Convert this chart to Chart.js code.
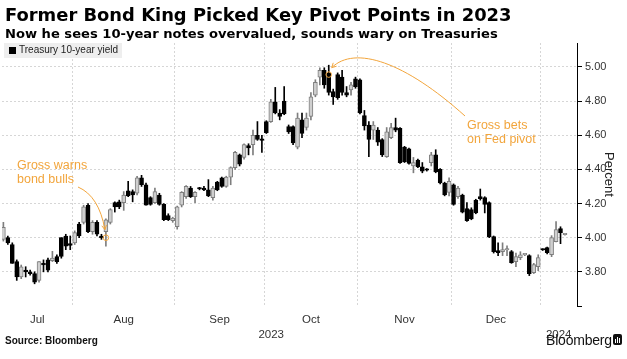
<!DOCTYPE html>
<html><head><meta charset="utf-8">
<script src="https://cdn.jsdelivr.net/npm/chart.js@4.4.1/dist/chart.umd.min.js"></script>
<style>
html,body{margin:0;padding:0;background:#fff;}
#wrap{position:relative;width:627px;height:359px;overflow:hidden;font-family:"Liberation Sans",Arial,sans-serif;color:#000;}
#c{position:absolute;left:0;top:0;}
.t{position:absolute;white-space:nowrap;line-height:1;}
#title{left:5px;top:6px;font-family:"DejaVu Sans",sans-serif;font-weight:bold;font-size:17.9px;}
#sub{left:5px;top:27px;font-family:"DejaVu Sans",sans-serif;font-weight:bold;font-size:13.1px;}
#leg{position:absolute;left:4px;top:43px;width:118px;height:15px;background:#eeeeee;}
#leg .sq{position:absolute;left:5px;top:4px;width:7px;height:7px;background:#000;}
#leg .lt{position:absolute;left:15px;top:2px;font-size:10px;color:#222;white-space:nowrap;line-height:1;}
#src{left:5px;top:336px;font-weight:bold;font-size:10px;color:#111;}
#bb{left:546px;top:333px;font-size:14px;color:#111;letter-spacing:-0.2px;}
#ico{position:absolute;left:613px;top:334px;width:9px;height:11px;background:#111;border-radius:2px;}
#ico i{position:absolute;bottom:2px;width:1px;background:#fff;}
</style></head>
<body><div id="wrap">
<canvas id="c" width="627" height="359"></canvas>
<div class="t" id="title">Former Bond King Picked Key Pivot Points in 2023</div>
<div class="t" id="sub">Now he sees 10-year notes overvalued, sounds wary on Treasuries</div>
<div id="leg"><div class="sq"></div><div class="lt">Treasury 10-year yield</div></div>
<div class="t" id="src">Source: Bloomberg</div>
<div class="t" id="bb">Bloomberg</div>
<div id="ico"><i style="left:2px;height:4px"></i><i style="left:4px;height:6px"></i><i style="left:6px;height:5px"></i></div>
</div>
<script>
// Trading days (Treasury 10-year yield, daily OHLC, percent)
const dates = [
"2023-07-10","2023-07-11","2023-07-12","2023-07-13","2023-07-14","2023-07-17","2023-07-18","2023-07-19","2023-07-20","2023-07-21",
"2023-07-24","2023-07-25","2023-07-26","2023-07-27","2023-07-28","2023-07-31",
"2023-08-01","2023-08-02","2023-08-03","2023-08-04","2023-08-07","2023-08-08","2023-08-09","2023-08-10","2023-08-11",
"2023-08-14","2023-08-15","2023-08-16","2023-08-17","2023-08-18","2023-08-21","2023-08-22","2023-08-23","2023-08-24","2023-08-25",
"2023-08-28","2023-08-29","2023-08-30","2023-08-31",
"2023-09-01","2023-09-05","2023-09-06","2023-09-07","2023-09-08","2023-09-11","2023-09-12","2023-09-13","2023-09-14","2023-09-15",
"2023-09-18","2023-09-19","2023-09-20","2023-09-21","2023-09-22","2023-09-25","2023-09-26","2023-09-27","2023-09-28","2023-09-29",
"2023-10-02","2023-10-03","2023-10-04","2023-10-05","2023-10-06","2023-10-10","2023-10-11","2023-10-12","2023-10-13",
"2023-10-16","2023-10-17","2023-10-18","2023-10-19","2023-10-20","2023-10-23","2023-10-24","2023-10-25","2023-10-26","2023-10-27",
"2023-10-30","2023-10-31",
"2023-11-01","2023-11-02","2023-11-03","2023-11-06","2023-11-07","2023-11-08","2023-11-09","2023-11-10","2023-11-13","2023-11-14",
"2023-11-15","2023-11-16","2023-11-17","2023-11-20","2023-11-21","2023-11-22","2023-11-24","2023-11-27","2023-11-28","2023-11-29","2023-11-30",
"2023-12-01","2023-12-04","2023-12-05","2023-12-06","2023-12-07","2023-12-08","2023-12-11","2023-12-12","2023-12-13","2023-12-14",
"2023-12-15","2023-12-18","2023-12-19","2023-12-20","2023-12-21","2023-12-22","2023-12-26","2023-12-27","2023-12-28","2023-12-29",
"2024-01-02","2024-01-03","2024-01-04","2024-01-05","2024-01-08","2024-01-09"
];
const open = [3.99,4.00,3.96,3.86,3.77,3.81,3.80,3.79,3.75,3.85,3.87,3.865,3.89,4.00,4.01,3.965,3.97,4.08,4.09,4.19,4.035,4.09,4.01,4.035,4.09,
4.205,4.21,4.205,4.275,4.27,4.26,4.35,4.31,4.235,4.205,4.25,4.195,4.13,4.10,4.065,4.19,4.24,4.29,4.24,4.29,4.29,4.28,4.235,4.325,4.35,
4.30,4.355,4.41,4.485,4.47,4.54,4.545,4.60,4.575,4.68,4.68,4.795,4.73,4.80,4.65,4.65,4.53,4.69,4.645,4.71,4.835,4.94,4.98,4.965,4.855,
4.955,4.94,4.85,4.865,4.93,4.925,4.715,4.66,4.63,4.63,4.575,4.475,4.585,4.645,4.64,4.53,4.52,4.42,4.455,4.415,4.40,4.44,4.485,4.40,4.32,
4.265,4.31,4.24,4.25,4.17,4.165,4.22,4.24,4.235,4.205,4.006,3.925,3.918,3.928,3.918,3.86,3.883,3.899,3.895,3.795,3.83,3.932,3.942,3.90,3.977,
4.053,4.017];
const high = [4.09,4.01,3.97,3.87,3.84,3.83,3.81,3.80,3.86,3.87,3.88,3.92,3.90,4.00,4.02,4.01,4.04,4.09,4.19,4.20,4.10,4.10,4.02,4.11,4.17,
4.21,4.22,4.27,4.33,4.28,4.36,4.365,4.32,4.24,4.29,4.26,4.20,4.14,4.12,4.185,4.27,4.305,4.30,4.27,4.295,4.30,4.34,4.30,4.33,4.355,
4.36,4.415,4.505,4.49,4.55,4.55,4.63,4.68,4.60,4.685,4.81,4.88,4.75,4.885,4.66,4.655,4.73,4.73,4.73,4.85,4.925,4.995,4.995,5.01,4.87,
4.965,4.98,4.885,4.91,4.94,4.93,4.745,4.68,4.68,4.645,4.58,4.645,4.67,4.70,4.645,4.535,4.525,4.47,4.46,4.44,4.405,4.50,4.515,4.405,4.325,
4.35,4.315,4.30,4.255,4.205,4.175,4.225,4.285,4.24,4.21,4.01,3.97,3.97,3.953,3.925,3.91,3.918,3.905,3.90,3.85,3.90,3.935,3.945,4.012,4.094,
4.064,4.022];
const low = [3.98,3.96,3.85,3.75,3.76,3.77,3.78,3.73,3.74,3.80,3.80,3.86,3.85,3.88,3.93,3.93,3.96,4.00,4.08,4.03,4.02,4.01,3.99,3.95,4.08,
4.15,4.17,4.16,4.24,4.21,4.25,4.30,4.19,4.19,4.20,4.19,4.10,4.10,4.09,4.05,4.18,4.23,4.235,4.205,4.28,4.275,4.24,4.22,4.275,4.295,
4.295,4.31,4.40,4.42,4.46,4.485,4.485,4.57,4.50,4.61,4.675,4.725,4.69,4.72,4.61,4.545,4.52,4.585,4.63,4.69,4.825,4.895,4.875,4.835,4.78,
4.81,4.835,4.825,4.835,4.875,4.725,4.63,4.475,4.575,4.54,4.475,4.47,4.58,4.62,4.435,4.44,4.43,4.38,4.41,4.38,4.39,4.42,4.38,4.315,4.245,
4.245,4.19,4.23,4.145,4.095,4.105,4.14,4.22,4.145,4.00,3.91,3.895,3.895,3.895,3.85,3.83,3.871,3.895,3.778,3.79,3.807,3.925,3.905,3.889,3.975,
3.965,4.015];
const close = [4.06,3.97,3.85,3.77,3.83,3.80,3.79,3.74,3.86,3.84,3.81,3.88,3.86,3.89,3.95,3.955,4.03,4.01,4.18,4.035,4.09,4.02,4.00,4.105,4.165,
4.18,4.18,4.25,4.245,4.25,4.35,4.31,4.19,4.195,4.27,4.195,4.105,4.105,4.115,4.18,4.265,4.30,4.24,4.265,4.285,4.28,4.245,4.29,4.28,4.30,
4.355,4.41,4.50,4.43,4.545,4.525,4.60,4.575,4.57,4.615,4.795,4.73,4.71,4.725,4.62,4.555,4.70,4.61,4.70,4.825,4.91,4.98,4.895,4.85,4.825,
4.82,4.85,4.835,4.895,4.885,4.73,4.655,4.575,4.66,4.56,4.485,4.62,4.645,4.63,4.44,4.445,4.435,4.44,4.415,4.39,4.395,4.485,4.385,4.32,4.25,
4.33,4.195,4.29,4.15,4.10,4.11,4.145,4.228,4.195,4.006,3.918,3.912,3.93,3.932,3.854,3.889,3.90,3.902,3.79,3.842,3.883,3.928,3.912,4.00,4.047,
4.029,4.02];
const yTicks = [3.80, 4.00, 4.20, 4.40, 4.60, 4.80, 5.00];
const monthNames = ["Jan","Feb","Mar","Apr","May","Jun","Jul","Aug","Sep","Oct","Nov","Dec"];

const X_MIN = -0.31, X_MAX = 128.7;
const UP_FILL = '#cfcfcf', UP_LINE = '#7e7e7e', DOWN = '#000000';
const ORANGE = '#F2A53C';

// month groups derived from the dates
const months = [];
dates.forEach((d, i) => {
  const key = d.slice(0, 7);
  const last = months[months.length - 1];
  if (!last || last.key !== key) months.push({key, first: i, last: i});
  else last.last = i;
});
const boundaries = months.slice(1).map(m => m.first - 0.5);
const monthTicks = months.filter(m => m.key.slice(0,4) === '2023').map(m => ({
  value: (Math.max(m.first - 0.5, X_MIN) + Math.min(m.last + 0.5, X_MAX)) / 2,
  label: monthNames[parseInt(m.key.slice(5, 7), 10) - 1]
}));
const years = [];
dates.forEach((d, i) => {
  const y = d.slice(0, 4);
  const last = years[years.length - 1];
  if (!last || last.y !== y) years.push({y, first: i, last: i}); else last.last = i;
});
const yearTicks = years.map((g, k) => ({
  value: (Math.max(g.first - 0.5, X_MIN) + (k === years.length - 1 ? X_MAX : g.last + 0.5)) / 2,
  label: g.y
}));

const isUp = i => close[i] >= open[i];
const bodies = dates.map((d, i) => ({x: i, y: [open[i], close[i]]}));
const wicks = dates.map((d, i) => ({x: i, y: [low[i], high[i]]}));

const annot = {
  id: 'annot',
  afterDatasetsDraw(chart) {
    const {ctx, scales} = chart;
    const xs = scales.x, ys = scales.y;
    ctx.save();
    ctx.strokeStyle = ORANGE; ctx.fillStyle = ORANGE; ctx.lineWidth = 1;
    const c1 = [xs.getPixelForValue(23), ys.getPixelForValue(4.00)];
    const c2 = [xs.getPixelForValue(73), ys.getPixelForValue(4.955)];
    [c1, c2].forEach(c => { ctx.beginPath(); ctx.arc(c[0], c[1], 2.8, 0, Math.PI * 2); ctx.stroke(); });
    ctx.font = '12.5px "Liberation Sans", Arial, sans-serif';
    ctx.textBaseline = 'alphabetic'; ctx.textAlign = 'left';
    ctx.fillText('Gross warns', 17, 169);
    ctx.fillText('bond bulls', 17, 183);
    ctx.fillText('Gross bets', 467, 129);
    ctx.fillText('on Fed pivot', 467, 143);
    const e1 = [c1[0] - 1, c1[1] - 8];
    ctx.beginPath(); ctx.moveTo(78, 187); ctx.quadraticCurveTo(99, 196, e1[0], e1[1]); ctx.stroke();
    drawHead(ctx, e1, [e1[0] - 99, e1[1] - 196], 5);
    const e2 = [c2[0] + 3, c2[1] - 7];
    ctx.beginPath(); ctx.moveTo(465, 116); ctx.bezierCurveTo(405, 62, 355, 45, e2[0], e2[1]); ctx.stroke();
    drawHead(ctx, e2, [e2[0] - 355, e2[1] - 45], 5);
    ctx.restore();
  }
};
function drawHead(ctx, tip, dir, len) {
  const a = Math.atan2(dir[1], dir[0]);
  ctx.beginPath();
  ctx.moveTo(tip[0] - len * Math.cos(a - 0.5), tip[1] - len * Math.sin(a - 0.5));
  ctx.lineTo(tip[0], tip[1]);
  ctx.lineTo(tip[0] - len * Math.cos(a + 0.5), tip[1] - len * Math.sin(a + 0.5));
  ctx.stroke();
}

const FONT = '"Liberation Sans", Arial, sans-serif';
const hx = { type: 'linear', position: 'bottom', min: X_MIN, max: X_MAX, offset: false };
new Chart(document.getElementById('c'), {
  type: 'bar',
  data: {
    datasets: [
      { label: 'Treasury 10-year yield', data: bodies, grouped: false, barThickness: 4, minBarLength: 1.5,
        backgroundColor: bodies.map((b, i) => isUp(i) ? UP_FILL : DOWN),
        borderColor: bodies.map((b, i) => isUp(i) ? UP_LINE : DOWN),
        borderWidth: 1, borderSkipped: false },
      { label: 'range', data: wicks, grouped: false, barThickness: 1,
        backgroundColor: wicks.map((b, i) => isUp(i) ? UP_LINE : DOWN), borderWidth: 0 }
    ]
  },
  options: {
    responsive: false, animation: false, devicePixelRatio: 1,
    layout: { padding: { top: 43, left: 2, right: 0, bottom: 15 } },
    plugins: { legend: { display: false }, tooltip: { enabled: false } },
    scales: {
      x: Object.assign({}, hx, {
        weight: 0,
        afterBuildTicks: s => { s.ticks = boundaries.map(v => ({value: v})); },
        afterFit: s => { s.height = 0; },
        ticks: { display: false },
        grid: { color: '#d6d6d6', drawTicks: false, lineWidth: 1, offset: false },
        border: { display: false, dash: [2, 2] }
      }),
      xm: Object.assign({}, hx, {
        weight: 1,
        afterBuildTicks: s => { s.ticks = monthTicks.map(t => ({value: t.value})); },
        afterFit: s => { s.height = 22; },
        ticks: { autoSkip: false, maxRotation: 0, minRotation: 0, padding: 7, color: '#333',
          font: { family: FONT, size: 11.5 },
          callback: (v) => { const t = monthTicks.find(m => Math.abs(m.value - v) < 1e-6); return t ? t.label : ''; } },
        grid: { display: false, drawTicks: false }, border: { display: false }
      }),
      xy: Object.assign({}, hx, {
        weight: 2,
        afterBuildTicks: s => { s.ticks = yearTicks.map(t => ({value: t.value})); },
        afterFit: s => { s.height = 16; },
        ticks: { autoSkip: false, maxRotation: 0, minRotation: 0, padding: 0, color: '#333',
          font: { family: FONT, size: 11.5 },
          callback: (v) => { const t = yearTicks.find(m => Math.abs(m.value - v) < 1e-6); return t ? t.label : ''; } },
        grid: { display: false, drawTicks: false }, border: { display: false }
      }),
      y: {
        type: 'linear', position: 'right', min: 3.60, max: 5.14,
        afterBuildTicks: s => { s.ticks = [3.60].concat(yTicks).map(v => ({value: v})); },
        afterFit: s => { s.width = 50; },
        ticks: { padding: 3, color: '#333', font: { family: FONT, size: 11 },
          callback: v => (Math.abs(v - 3.60) < 1e-6 ? '' : v.toFixed(2)) },
        grid: { color: c => (c.tick && Math.abs(c.tick.value - 3.60) < 1e-6 ? 'rgba(0,0,0,0)' : '#d6d6d6'),
          tickColor: '#000', tickLength: 5, drawTicks: true },
        border: { display: true, color: '#000', width: 1, dash: [2, 2] },
        title: { display: true, text: 'Percent', color: '#222', font: { family: FONT, size: 13 }, padding: { top: 11, bottom: 0 } }
      }
    }
  },
  plugins: [annot]
});
</script>
</body></html>
